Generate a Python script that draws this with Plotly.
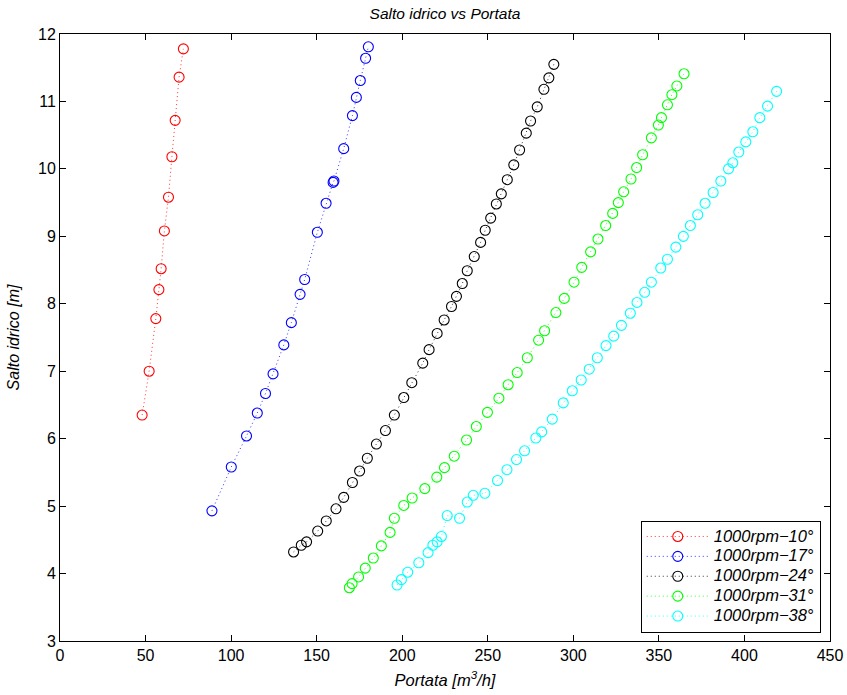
import plotly.graph_objects as go

# ---- data ----
names = ["1000rpm\u221210\u00b0", "1000rpm\u221217\u00b0", "1000rpm\u221224\u00b0",
         "1000rpm\u221231\u00b0", "1000rpm\u221238\u00b0"]
colors = ["#ff0000", "#0000ff", "#000000", "#00ff00", "#00ffff"]

q10 = [48.0, 52.1, 56.0, 57.8, 59.1, 61.0, 63.4, 65.4, 67.3, 69.6, 72.1]
h10 = [6.35, 7.00, 7.78, 8.21, 8.52, 9.08, 9.58, 10.18, 10.72, 11.36, 11.78]

q17 = [88.8, 100.1, 109.0, 115.3, 120.1, 124.5, 130.8, 135.2, 140.3, 143.0,
       150.4, 155.5, 159.6, 160.1, 165.8, 170.9, 173.2, 175.5, 178.6, 180.2]
h17 = [4.93, 5.58, 6.04, 6.38, 6.67, 6.96, 7.39, 7.72, 8.14, 8.36,
       9.06, 9.49, 9.80, 9.82, 10.30, 10.79, 11.06, 11.31, 11.64, 11.81]

q24 = [136.5, 141.0, 144.1, 150.6, 155.6, 161.3, 165.8, 170.9, 175.1, 179.6,
       184.9, 190.2, 195.4, 200.9, 205.6, 212.0, 215.7, 220.4, 224.5, 228.8,
       231.7, 235.1, 238.0, 242.1, 245.8, 248.5, 251.7, 255.0, 257.9, 261.4,
       265.2, 268.6, 272.5, 275.0, 278.9, 282.8, 285.7, 288.6]
h24 = [4.32, 4.42, 4.47, 4.63, 4.78, 4.96, 5.13, 5.35, 5.52, 5.71,
       5.92, 6.12, 6.35, 6.61, 6.83, 7.12, 7.32, 7.56, 7.76, 7.96,
       8.11, 8.30, 8.49, 8.70, 8.91, 9.09, 9.27, 9.48, 9.63, 9.84,
       10.06, 10.28, 10.53, 10.71, 10.92, 11.18, 11.35, 11.55]

q31 = [169.1, 170.7, 174.5, 178.4, 183.1, 187.8, 192.9, 195.4, 200.9, 205.8,
       213.2, 220.2, 224.7, 230.4, 237.6, 243.3, 249.8, 256.5, 261.9, 267.2,
       273.1, 279.7, 283.2, 289.8, 294.7, 300.4, 304.9, 310.1, 314.4, 318.9,
       323.0, 326.3, 329.4, 333.7, 337.0, 340.5, 345.6, 349.7, 351.5, 355.0,
       357.6, 360.5, 364.7]
h31 = [3.79, 3.85, 3.95, 4.08, 4.23, 4.41, 4.61, 4.82, 5.01, 5.12,
       5.26, 5.43, 5.57, 5.74, 5.98, 6.18, 6.39, 6.60, 6.80, 6.98,
       7.20, 7.46, 7.60, 7.87, 8.08, 8.32, 8.54, 8.77, 8.96, 9.16,
       9.34, 9.50, 9.66, 9.85, 10.02, 10.21, 10.46, 10.65, 10.76, 10.95,
       11.10, 11.23, 11.41]

q38 = [197.0, 199.5, 203.2, 209.7, 215.1, 217.9, 220.4, 222.9, 226.3, 233.5,
       238.0, 241.5, 248.3, 255.7, 261.2, 266.8, 271.5, 278.1, 281.5, 287.7,
       294.1, 299.4, 304.6, 309.3, 314.0, 319.1, 323.6, 328.1, 333.3, 337.2,
       341.7, 345.6, 351.1, 355.0, 359.9, 364.3, 368.4, 372.7, 377.0, 381.7,
       386.2, 390.7, 393.2, 396.7, 400.8, 404.9, 409.0, 413.5, 418.8]
h38 = [3.83, 3.91, 4.02, 4.16, 4.31, 4.42, 4.47, 4.55, 4.86, 4.82,
       5.06, 5.16, 5.19, 5.38, 5.54, 5.69, 5.82, 6.01, 6.10, 6.29,
       6.53, 6.71, 6.87, 7.03, 7.20, 7.38, 7.52, 7.68, 7.86, 8.02,
       8.17, 8.32, 8.53, 8.66, 8.84, 9.00, 9.16, 9.32, 9.49, 9.65,
       9.82, 10.00, 10.09, 10.25, 10.40, 10.55, 10.76, 10.93, 11.15]

series_x = [q10, q17, q24, q31, q38]
series_y = [h10, h17, h24, h31, h38]

x_ticks = [0, 50, 100, 150, 200, 250, 300, 350, 400, 450]
y_ticks = [3, 4, 5, 6, 7, 8, 9, 10, 11, 12]

FONT = "Liberation Sans, Arial, sans-serif"

fig = go.Figure()
for nm, c, xs, ys in zip(names, colors, series_x, series_y):
    fig.add_trace(go.Scatter(
        x=xs, y=ys, mode="lines+markers",
        name="<span style='font-size:16.5px'><i>" + nm + "</i></span>",
        line=dict(color=c, width=0.8, dash="1px,3px"),
        marker=dict(symbol="circle-open", size=10, color=c, line=dict(width=1.1, color=c)),
    ))

axis_common = dict(
    showgrid=False, zeroline=False, showline=True, linecolor="black", linewidth=1,
    mirror="ticks", ticks="inside", ticklen=6, tickcolor="black", tickwidth=1,
    tickfont=dict(family=FONT, size=16, color="black"), automargin=False,
)

fig.update_layout(
    width=847, height=695,
    paper_bgcolor="white", plot_bgcolor="white",
    margin=dict(l=60, r=17, t=34, b=54, autoexpand=False),
    title=dict(text="<i>Salto idrico vs Portata</i>", x=0.5 * (60 + 830) / 847, xanchor="center",
               y=1 - 14 / 695, yanchor="middle",
               font=dict(family=FONT, size=15.5, color="black")),
    xaxis=dict(range=[0, 450], tickvals=x_ticks, ticktext=[str(v) for v in x_ticks],
               title=dict(text="<i>Portata [m<sup>3</sup>/h]</i>", standoff=11,
                          font=dict(family=FONT, size=16.5, color="black")),
               **axis_common),
    yaxis=dict(range=[3, 12], tickvals=y_ticks, ticktext=[str(v) for v in y_ticks],
               title=dict(text="<i>Salto idrico [m]</i>", standoff=14,
                          font=dict(family=FONT, size=16, color="black")),
               **axis_common),
    legend=dict(x=0.988, y=0.014, xanchor="right", yanchor="bottom",
                bgcolor="white", bordercolor="black", borderwidth=1,
                font=dict(family=FONT, size=13, color="black"),
                itemwidth=62, tracegroupgap=0),
    showlegend=True,
)

fig.write_html("out.html")
